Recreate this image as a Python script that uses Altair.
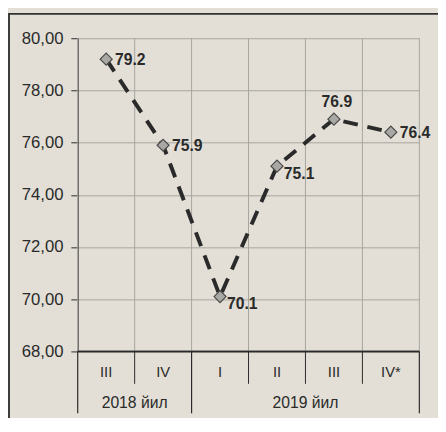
import altair as alt
import pandas as pd

quarters = ["III", "IV", "I", "II", "III", "IV*"]
years = ["2018 йил", "2018 йил", "2019 йил", "2019 йил", "2019 йил", "2019 йил"]
values = [79.2, 75.9, 70.1, 75.1, 76.9, 76.4]
y_ticks = [68, 70, 72, 74, 76, 78, 80]

W, H = 348, 319
BG = "#e3dfd6"
INK = "#2a2a2a"
GRID = "#a6a49f"
FONT = "Liberation Sans"

n = len(quarters)
pts = pd.DataFrame({
    "idx": [i + 0.5 for i in range(n)],
    "q": quarters,
    "year": years,
    "v": values,
})

# category boundaries; a boundary is a "group" boundary where the year changes
bounds = []
for b in range(n + 1):
    grp = b == 0 or b == n or years[b - 1] != years[b]
    bounds.append({"b": b, "grp": grp})
bdf = pd.DataFrame(bounds)

# group label positions (centre of each run of years)
groups = []
start = 0
for i in range(1, n + 1):
    if i == n or years[i] != years[start]:
        groups.append({"c": (start + i) / 2, "label": years[start]})
        start = i
gdf = pd.DataFrame(groups)

xscale = alt.Scale(domain=[0, n], nice=False, zero=False)
yscale = alt.Scale(domain=[68, 80], nice=False, zero=False)

yaxis = alt.Axis(
    values=y_ticks, labelExpr="replace(format(datum.value, '.2f'), '.', ',')",
    grid=True, gridColor=GRID, gridWidth=1, tickColor=INK, tickSize=7,
    domain=True, domainColor=INK, labelPadding=8, labelFontSize=17,
    labelColor=INK, labelFont=FONT, title=None,
)

base_x = alt.X("b:Q", scale=xscale, axis=None)

vgrid = alt.Chart(bdf).mark_rule(color=GRID, strokeWidth=1).encode(
    x=base_x, y=alt.value(0), y2=alt.value(H)
)
bottom_axis = alt.Chart(gdf).mark_rule(color=INK, strokeWidth=1.5).encode(
    x=alt.value(0), x2=alt.value(W), y=alt.value(H)
)
sep_short = alt.Chart(bdf).transform_filter("!datum.grp").mark_rule(
    color=INK, strokeWidth=1
).encode(x=base_x, y=alt.value(H), y2=alt.value(H + 33))
sep_long = alt.Chart(bdf).transform_filter("datum.grp").mark_rule(
    color=INK, strokeWidth=1.2
).encode(x=base_x, y=alt.value(H), y2=alt.value(H + 63))

frame = alt.Chart(gdf).mark_rect(fill=None, stroke="#333", strokeWidth=1.5).encode(
    x=alt.value(-70), x2=alt.value(W + 30), y=alt.value(-25), y2=alt.value(H + 80)
)

px = alt.X("idx:Q", scale=xscale, axis=None)
py = alt.Y("v:Q", scale=yscale, axis=yaxis)

line = alt.Chart(pts).mark_line(
    color=INK, strokeWidth=4, strokeDash=[15, 10]
).encode(x=px, y=py)
points = alt.Chart(pts).mark_point(
    shape="diamond", filled=True, fill="#a9a8a4", stroke="#4a4a4a",
    strokeWidth=1.2, size=150, opacity=1
).encode(x=px, y=py)

lbl = dict(fontSize=16, fontWeight="bold", font=FONT, color=INK)
right_mid = alt.Chart(pts).transform_filter(
    "datum.idx != 2.5 && datum.idx != 3.5 && datum.idx != 4.5"
).mark_text(align="left", baseline="middle", dx=9, dy=1, **lbl).encode(
    x=px, y=py, text=alt.Text("v:Q", format=".1f")
)
right_low = alt.Chart(pts).transform_filter(
    "datum.idx == 2.5 || datum.idx == 3.5"
).mark_text(align="left", baseline="middle", dx=7, dy=8, **lbl).encode(
    x=px, y=py, text=alt.Text("v:Q", format=".1f")
)
above = alt.Chart(pts).transform_filter("datum.idx == 4.5").mark_text(
    align="center", baseline="bottom", dx=3, dy=-9, **lbl
).encode(x=px, y=py, text=alt.Text("v:Q", format=".1f"))

qlabels = alt.Chart(pts).mark_text(
    fontSize=15, font=FONT, color=INK, baseline="middle"
).encode(x=px, y=alt.value(H + 21), text="q:N")

glabels = alt.Chart(gdf).mark_text(
    fontSize=16, font=FONT, color=INK, baseline="middle"
).encode(x=alt.X("c:Q", scale=xscale, axis=None), y=alt.value(H + 53), text="label:N")

chart = alt.layer(
    frame, vgrid, bottom_axis, sep_short, sep_long, line, points,
    right_mid, right_low, above, qlabels, glabels
).properties(
    width=W, height=H, autosize="none",
    padding={"left": 71, "top": 27, "right": 19, "bottom": 64},
    background=BG,
).configure_view(stroke=None, fill=BG)

chart.save("out.html", embed_options={"renderer": "svg", "actions": False})
